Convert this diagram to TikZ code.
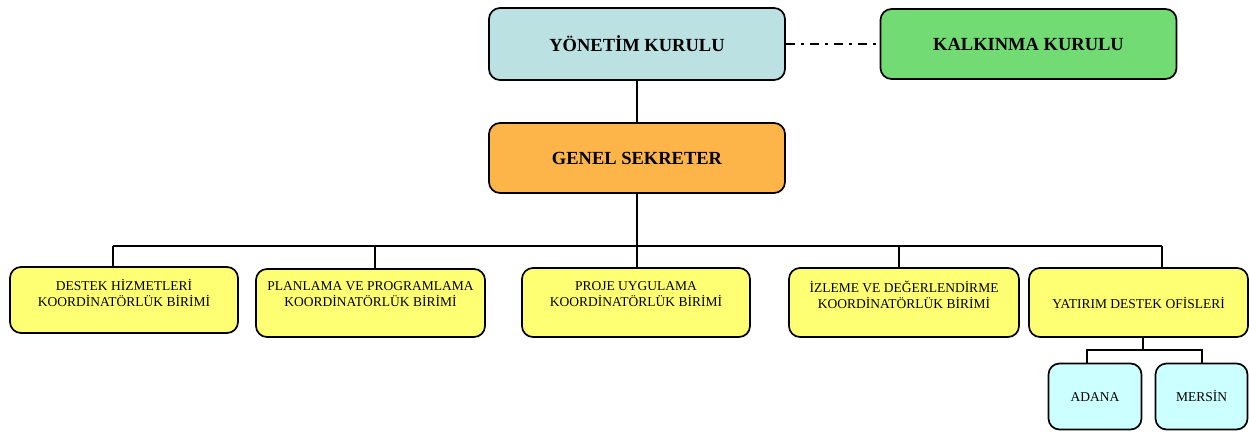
\documentclass[tikz,border=0pt]{standalone}
\usepackage{fontspec}
\setmainfont{Liberation Serif}
\definecolor{blueh}{HTML}{BCE1E3}
\definecolor{greenh}{HTML}{72DB74}
\definecolor{orangeh}{HTML}{FDB54A}
\definecolor{ylw}{HTML}{FFFF74}
\definecolor{cyanb}{HTML}{CCFFFF}
\begin{document}
\begin{tikzpicture}[x=1pt,y=-1pt,
  box/.style={draw, line width=1.7pt, rounded corners=11pt, inner sep=0pt},
  head/.style={box, font=\fontsize{18.5}{22}\selectfont\bfseries},
  unit/.style={box, fill=ylw},
  city/.style={box, fill=cyanb, minimum width=93, minimum height=66, text height=9pt, text depth=0pt, font=\fontsize{13.5}{16}\selectfont},
  utext/.style={inner sep=0pt, align=center, font=\fontsize{13.5}{16}\selectfont},
  conn/.style={line width=1.5pt}]
\useasboundingbox (0,0) rectangle (1249,432);

\node[head, fill=blueh, minimum width=296, minimum height=72] (yk) at (637,44) {YÖNETİM KURULU};
\node[head, fill=greenh, minimum width=296, minimum height=70] (kk) at (1028.5,44) {KALKINMA KURULU};
\node[head, fill=orangeh, minimum width=296, minimum height=70] (gs) at (637,158) {GENEL SEKRETER};

\node[unit, minimum width=228, minimum height=66] (d1) at (124,300) {};
\node[utext] (d1t) at (124,292.5) {DESTEK HİZMETLERİ\\KOORDİNATÖRLÜK BİRİMİ};
\node[unit, minimum width=229, minimum height=68] (d2) at (370.5,303) {};
\node[utext] (d2t) at (370.5,294) {PLANLAMA VE PROGRAMLAMA\\KOORDİNATÖRLÜK BİRİMİ};
\node[unit, minimum width=228, minimum height=69] (d3) at (636,302.5) {};
\node[utext] (d3t) at (636,294) {PROJE UYGULAMA\\KOORDİNATÖRLÜK BİRİMİ};
\node[unit, minimum width=230, minimum height=69] (d4) at (904,302.5) {};
\node[utext] (d4t) at (904,294.5) {İZLEME VE DEĞERLENDİRME\\KOORDİNATÖRLÜK BİRİMİ};
\node[unit, minimum width=219, minimum height=69] (d5) at (1138.5,302.5) {};
\node[utext] (d5t) at (1138.5,303) {YATIRIM DESTEK OFİSLERİ};

\node[city] (ad) at (1095,396.5) {ADANA};
\node[city, minimum width=92] (me) at (1201.5,396.5) {MERSİN};

\coordinate (busL) at (113,246);
\coordinate (busR) at (1162,246);
\coordinate (sub) at (1143,350);

\draw[conn, dash pattern=on 9pt off 6pt on 3pt off 6pt] (yk.east) -- (kk.west);
\draw[conn] (yk) -- (gs);
\draw[conn] (gs.south) -- (gs.south |- busL);
\draw[conn] (busL) -- (busR);
\draw[conn] (busL) -- ([xshift=-11pt]d1.north);
\draw[conn] ([xshift=4.5pt]d2.north) -- ([xshift=4.5pt]d2.north |- busL);
\draw[conn] ([xshift=1pt]d3.north) -- ([xshift=1pt]d3.north |- busL);
\draw[conn] ([xshift=-5pt]d4.north) -- ([xshift=-5pt]d4.north |- busL);
\draw[conn] (busR) -- ([xshift=23.5pt]d5.north);
\draw[conn] ([xshift=4.5pt]d5.south) -- ([xshift=4.5pt]d5.south |- sub);
\draw[conn] ([xshift=-8pt]ad.north) -- ([xshift=-8pt]ad.north |- sub) -- ([xshift=0.5pt]me.north |- sub) -- ([xshift=0.5pt]me.north);
\end{tikzpicture}
\end{document}
